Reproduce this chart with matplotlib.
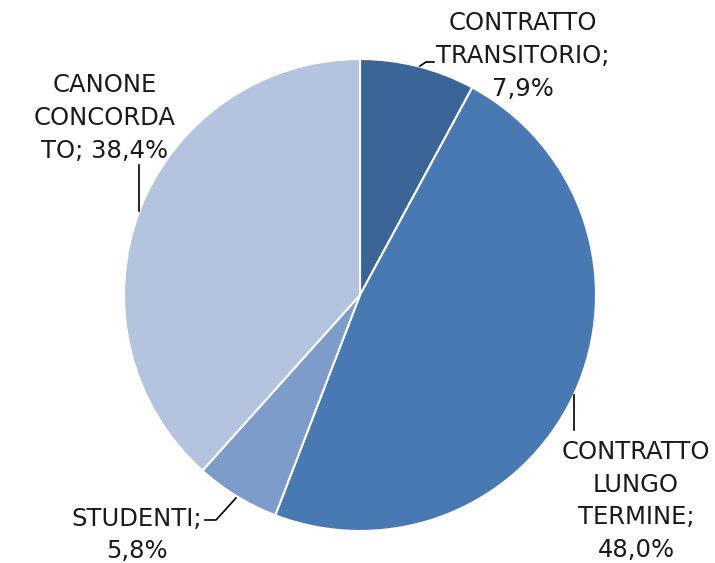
import matplotlib
matplotlib.use("Agg")
import matplotlib.pyplot as plt

categories = ["CONTRATTO\nTRANSITORIO;", "CONTRATTO\nLUNGO\nTERMINE;", "STUDENTI;", "CANONE\nCONCORDA\nTO;"]
values = [7.9, 48.0, 5.8, 38.4]
colors = ["#3B6597", "#4979B3", "#7E9CCA", "#B4C4DF"]

W, H = 715, 563
fig = plt.figure(figsize=(W / 100, H / 100), dpi=100)
ax = fig.add_axes([0, 0, 1, 1])

cx, cy, r = 360, H - 295, 236
ax.pie(values, colors=colors, startangle=90, counterclock=False,
       center=(cx, cy), radius=r, frame=True,
       wedgeprops=dict(edgecolor="white", linewidth=1.5))
ax.set_xlim(0, W)
ax.set_ylim(0, H)
ax.set_aspect("equal")
ax.axis("off")

def fmt(v):
    return f"{v:.1f}%".replace(".", ",")

labels = [
    (categories[0] + "\n" + fmt(values[0]), 523, 56),
    (categories[1] + "\n" + fmt(values[1]), 636, 501),
    (categories[2] + "\n" + fmt(values[2]), 137, 535),
    ("CANONE\nCONCORDA\nTO; " + fmt(values[3]), 105, 118),
]
for txt, x, y in labels:
    ax.text(x, H - y, txt, ha="center", va="center", fontsize=17.5,
            family="DejaVu Sans", linespacing=1.45, color="#1a1a1a")

lk = dict(color="black", linewidth=1.2)
ax.plot([420, 426, 434], [H - 66, H - 62, H - 62], **lk)
ax.plot([139, 139], [H - 165, H - 211], **lk)
ax.plot([205, 216, 236], [H - 520, H - 520, H - 498], **lk)
ax.plot([574, 574], [H - 395, H - 430], **lk)

fig.savefig("out.png", dpi=100)
